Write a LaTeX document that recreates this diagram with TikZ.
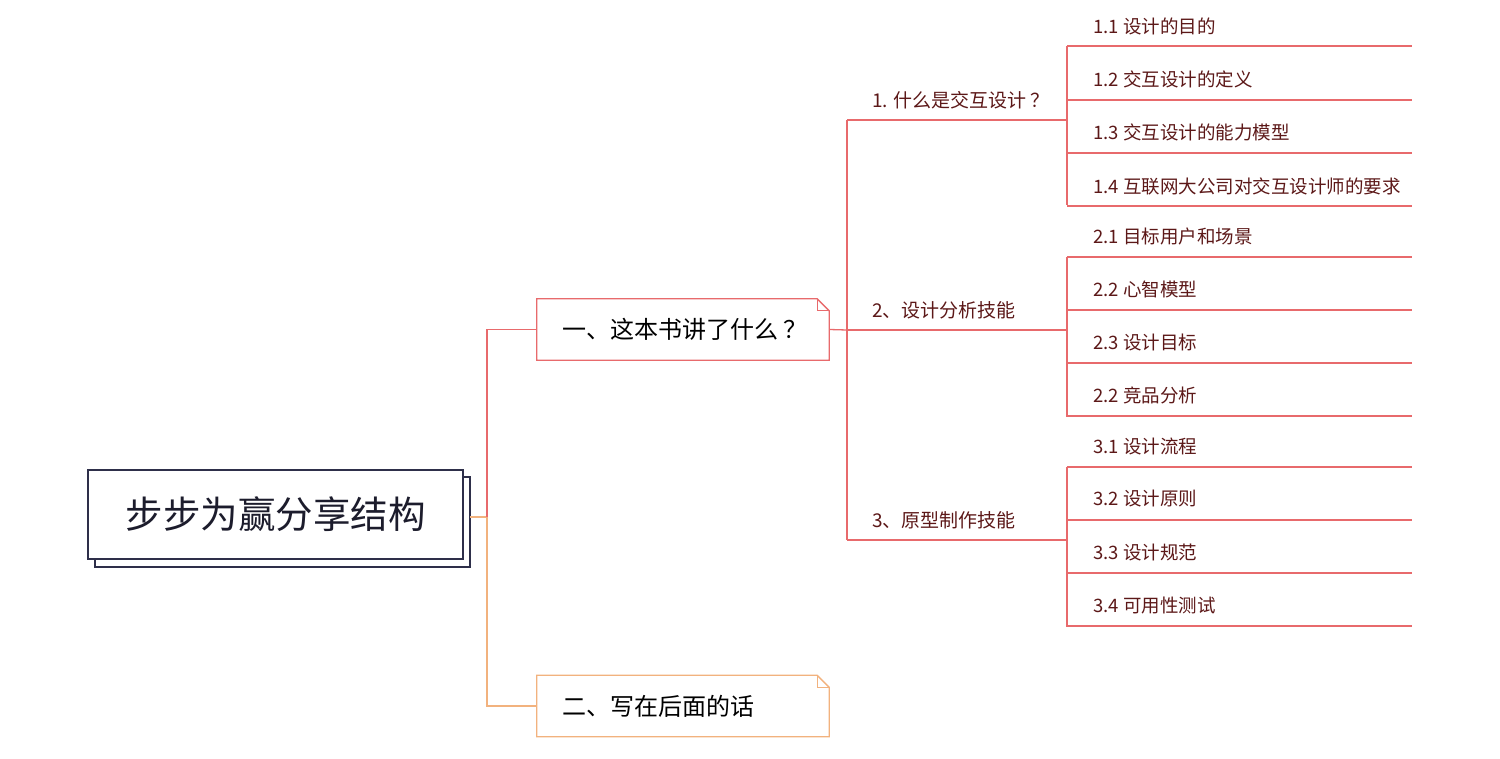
\documentclass[tikz,border=0pt]{standalone}
\usepackage{fontspec}
\setmainfont{Noto Sans CJK SC}
\definecolor{redline}{HTML}{E86A6C}
\definecolor{orangeline}{HTML}{F2B27E}
\definecolor{navy}{HTML}{2E2F4A}
\definecolor{leaftext}{HTML}{5C1818}
\tikzset{
  leaf/.style={anchor=west, inner sep=0pt, text=leaftext, font=\fontsize{18.5}{21}\selectfont},
  sub/.style={anchor=west, inner sep=0pt, text=leaftext, font=\fontsize{19}{22}\selectfont},
  conn/.style={draw=redline, line width=1.3pt},
  oconn/.style={draw=orangeline, line width=1.3pt},
  boxlbl/.style={anchor=west, inner sep=0pt, text=black, font=\fontsize{24}{27}\selectfont},
}
\begin{document}
\begin{tikzpicture}[x=1pt,y=-1pt]
\useasboundingbox (0,0) rectangle (1500,759);
% root
\draw[navy, line width=1.5pt, fill=white] (95,477) rectangle (470,567);
\node[draw=navy, line width=1.5pt, fill=white, minimum width=375pt, minimum height=89pt, inner sep=0pt,
  text=navy!60!black, font=\fontsize{37.5}{40}\selectfont] (root) at (275.5,514.5) {步步为赢分享结构};
\coordinate (rootout) at (470,517);
\coordinate (j0) at (487,517);

% branch boxes
\node[minimum width=292pt, minimum height=61pt, inner sep=0pt] (b1) at (683,329.5) {};
\draw[redline, line width=1.3pt, fill=white] (b1.north west) -- ([xshift=-12pt]b1.north east) -- ([yshift=-12pt]b1.north east) -- (b1.south east) -- (b1.south west) -- cycle;
\draw[redline, line width=1pt] ([xshift=-12pt]b1.north east) -- ([xshift=-12pt,yshift=-12pt]b1.north east) -- ([yshift=-12pt]b1.north east);
\node[boxlbl] (b1t) at ([xshift=25pt]b1.west) {一、这本书讲了什么 ？};

\node[minimum width=292pt, minimum height=61pt, inner sep=0pt] (b2) at (683,706) {};
\draw[orangeline, line width=1.3pt, fill=white] (b2.north west) -- ([xshift=-12pt]b2.north east) -- ([yshift=-12pt]b2.north east) -- (b2.south east) -- (b2.south west) -- cycle;
\draw[orangeline, line width=1pt] ([xshift=-12pt]b2.north east) -- ([xshift=-12pt,yshift=-12pt]b2.north east) -- ([yshift=-12pt]b2.north east);
\node[boxlbl] (b2t) at ([xshift=25pt]b2.west) {二、写在后面的话};

% root connectors
\draw[oconn] (rootout) -- (j0) |- (b2.west);
\draw[conn] (j0) |- (b1.west);

% sub-branches
\coordinate (s0) at (847,330);
\draw[conn] (b1.east) -- (s0);
\coordinate (s1a) at (847,120); \coordinate (s1b) at (1067,120);
\coordinate (s2a) at (847,330); \coordinate (s2b) at (1067,330);
\coordinate (s3a) at (847,540); \coordinate (s3b) at (1067,540);
\draw[conn] (s1a) -- (s3a);
\draw[conn] (s1a) -- (s1b);
\draw[conn] (s2a) -- (s2b);
\draw[conn] (s3a) -- (s3b);
\node[sub] (s1) at (872,100) {1. 什么是交互设计 ？};
\node[sub] (s2) at (872,310) {2、设计分析技能};
\node[sub] (s3) at (872,520) {3、原型制作技能};

% leaves
\foreach \g/\ya in {1/46, 2/257, 3/467}{
  \coordinate (v\g a) at (1067,\ya);
  \coordinate (v\g b) at (1067,\ya+159.5);
  \draw[conn] (v\g a) -- (v\g b);
}
\foreach \name/\ty/\uy/\txt in {
  l11/26/46/{1.1 设计的目的},
  l12/79/100/{1.2 交互设计的定义},
  l13/132/153/{1.3 交互设计的能力模型},
  l14/186/206/{1.4 互联网大公司对交互设计师的要求},
  l21/236/257/{2.1 目标用户和场景},
  l22/289/310/{2.2 心智模型},
  l23/342/363/{2.3 设计目标},
  l24/395/416/{2.2 竞品分析},
  l31/446/467/{3.1 设计流程},
  l32/499/520/{3.2 设计原则},
  l33/552/573/{3.3 设计规范},
  l34/606/626/{3.4 可用性测试}}{
  \node[leaf] (\name) at (1093,\ty) {\txt};
  \coordinate (\name a) at (1067,\uy);
  \coordinate (\name b) at (1412,\uy);
  \draw[conn] (\name a) -- (\name b);
}
\end{tikzpicture}
\end{document}
